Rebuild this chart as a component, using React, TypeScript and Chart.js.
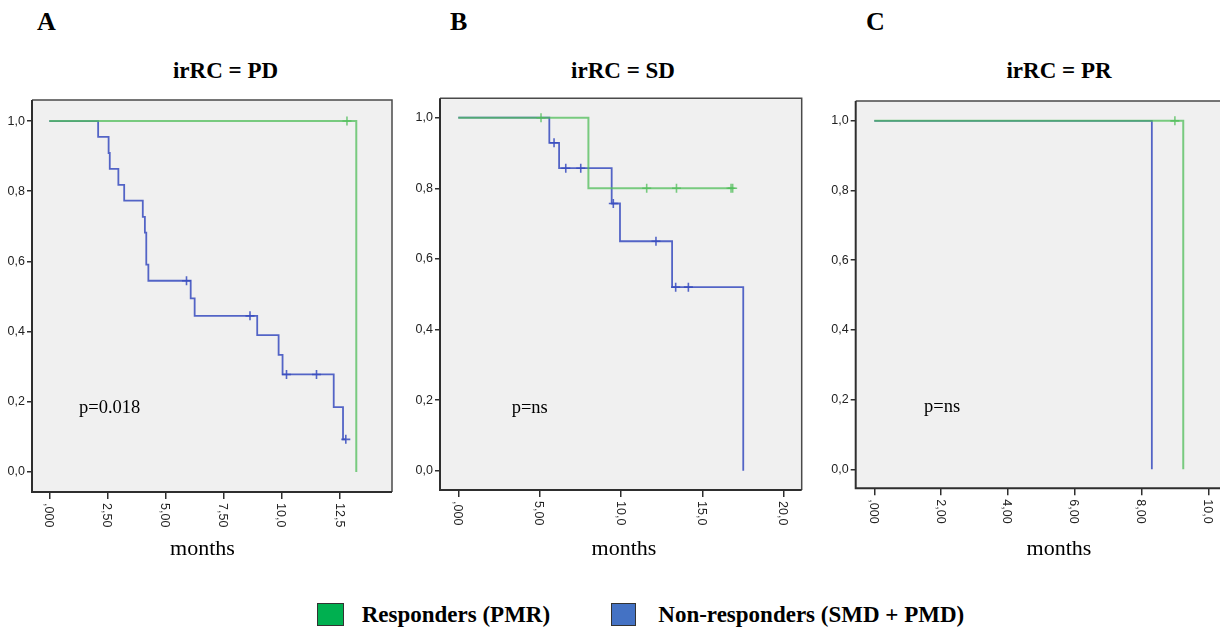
import React, { useEffect, useRef } from "react";
import { Chart, registerables } from "chart.js";
Chart.register(...registerables);

// ---------- shared tick labels ----------
const yTicks = [0, 0.2, 0.4, 0.6, 0.8, 1.0];
const yTickLabels = ["0,0", "0,2", "0,4", "0,6", "0,8", "1,0"];

// ---------- Panel A : irRC = PD ----------
const aXTicks = [0, 2.5, 5, 7.5, 10, 12.5];
const aXTickLabels = [",000", "2,50", "5,00", "7,50", "10,0", "12,5"];
const aRespTime = [0, 13.2];
const aRespSurv = [1, 0];
const aRespCensTime = [12.8];
const aRespCensSurv = [1];
const aNonTime = [0, 2.1, 2.55, 2.6, 2.97, 3.22, 4.02, 4.11, 4.17, 4.26, 6.08, 6.25, 8.94, 9.86, 10.03, 12.23, 12.63, 12.75];
const aNonSurv = [1, 0.955, 0.909, 0.864, 0.818, 0.773, 0.727, 0.682, 0.591, 0.545, 0.495, 0.445, 0.39, 0.334, 0.278, 0.185, 0.093, 0.093];
const aNonCensTime = [5.9, 8.63, 10.2, 11.49, 12.75];
const aNonCensSurv = [0.545, 0.445, 0.278, 0.278, 0.093];

// ---------- Panel B : irRC = SD ----------
const bXTicks = [0, 5, 10, 15, 20];
const bXTickLabels = [",000", "5,00", "10,0", "15,0", "20,0"];
const bRespTime = [0, 7.99, 16.9];
const bRespSurv = [1, 0.8, 0.8];
const bRespCensTime = [5.08, 11.57, 13.4, 16.75, 16.85];
const bRespCensSurv = [1, 0.8, 0.8, 0.8, 0.8];
const bNonTime = [0, 5.59, 6.19, 9.42, 9.93, 13.13, 17.5];
const bNonSurv = [1, 0.929, 0.857, 0.757, 0.65, 0.52, 0];
const bNonCensTime = [5.88, 6.6, 7.52, 9.52, 12.14, 13.35, 14.13];
const bNonCensSurv = [0.929, 0.857, 0.857, 0.757, 0.65, 0.52, 0.52];

// ---------- Panel C : irRC = PR ----------
const cXTicks = [0, 2, 4, 6, 8, 10];
const cXTickLabels = [",000", "2,00", "4,00", "6,00", "8,00", "10,0"];
const cRespTime = [0, 9.25];
const cRespSurv = [1, 0];
const cRespCensTime = [9.0];
const cRespCensSurv = [1];
const cNonTime = [0, 8.31];
const cNonSurv = [1, 0];
const cNonCensTime: number[] = [];
const cNonCensSurv: number[] = [];

const GREEN = "rgba(80,190,90,0.75)";
const BLUE = "rgba(55,75,190,0.85)";

type PanelDef = {
  left: number; top: number; w: number; h: number;
  yW: number; xH: number; padTop: number; padRight: number;
  xMin: number; xMax: number; yMin: number; yMax: number;
  xTicks: number[]; xLabels: string[];
  rT: number[]; rS: number[]; rcT: number[]; rcS: number[];
  nT: number[]; nS: number[]; ncT: number[]; ncS: number[];
};

const panels: PanelDef[] = [
  {
    left: 0, top: 90, w: 400, h: 450, yW: 32, xH: 48, padTop: 10, padRight: 8,
    xMin: -0.744, xMax: 14.736, yMin: -0.057, yMax: 1.06,
    xTicks: aXTicks, xLabels: aXTickLabels,
    rT: aRespTime, rS: aRespSurv, rcT: aRespCensTime, rcS: aRespCensSurv,
    nT: aNonTime, nS: aNonSurv, ncT: aNonCensTime, ncS: aNonCensSurv,
  },
  {
    left: 400, top: 88, w: 410, h: 452, yW: 40, xH: 50, padTop: 10.3, padRight: 8.3,
    xMin: -1.124, xMax: 21.09, yMin: -0.0547, yMax: 1.055,
    xTicks: bXTicks, xLabels: bXTickLabels,
    rT: bRespTime, rS: bRespSurv, rcT: bRespCensTime, rcS: bRespCensSurv,
    nT: bNonTime, nS: bNonSurv, ncT: bNonCensTime, ncS: bNonCensSurv,
  },
  {
    left: 812, top: 90, w: 428, h: 450, yW: 43.7, xH: 51.7, padTop: 11, padRight: 10,
    xMin: -0.557, xMax: 10.65, yMin: -0.0546, yMax: 1.057,
    xTicks: cXTicks, xLabels: cXTickLabels,
    rT: cRespTime, rS: cRespSurv, rcT: cRespCensTime, rcS: cRespCensSurv,
    nT: cNonTime, nS: cNonSurv, ncT: cNonCensTime, ncS: cNonCensSurv,
  },
];

const pts = (t: number[], s: number[]) => t.map((x, i) => ({ x, y: s[i] }));

const tickFont = '"Liberation Sans Narrow", "Liberation Sans", Arial, sans-serif';

function makeFramePlugin(xTicks: number[], xLabels: string[]) {
  return {
    id: "frameAndLabels",
    beforeDraw(chart: any) {
      const { ctx, chartArea } = chart;
      const { left, top, right, bottom } = chartArea;
      ctx.save();
      ctx.fillStyle = "#f0f0f0";
      ctx.fillRect(left, top, right - left, bottom - top);
      ctx.restore();
    },
    afterDraw(chart: any) {
      const { ctx, chartArea } = chart;
      const { left, top, right, bottom } = chartArea;
      ctx.save();
      ctx.strokeStyle = "#4a4a4a";
      ctx.lineWidth = 1.5;
      ctx.beginPath();
      ctx.moveTo(left, top);
      ctx.lineTo(right, top);
      ctx.lineTo(right, bottom);
      ctx.stroke();
      ctx.strokeStyle = "#2e2e2e";
      ctx.lineWidth = 2;
      ctx.beginPath();
      ctx.moveTo(left, top);
      ctx.lineTo(left, bottom);
      ctx.lineTo(right, bottom);
      ctx.stroke();
      const xs = chart.scales.x;
      ctx.fillStyle = "#222";
      ctx.font = `12.5px ${tickFont}`;
      ctx.textAlign = "left";
      ctx.textBaseline = "middle";
      xTicks.forEach((v, i) => {
        const px = xs.getPixelForValue(v);
        ctx.save();
        ctx.translate(px - 1, bottom + 11);
        ctx.rotate(Math.PI / 2);
        ctx.fillText(xLabels[i], 0, 0);
        ctx.restore();
      });
      ctx.restore();
    },
  };
}

function Panel({ p }: { p: PanelDef }) {
  const ref = useRef<HTMLCanvasElement | null>(null);
  useEffect(() => {
    if (!ref.current) return;
    const gridOpts = {
      display: true,
      drawOnChartArea: false,
      drawTicks: true,
      color: "#2e2e2e",
      lineWidth: 1.5,
    };
    const chart = new Chart(ref.current, {
      type: "line",
      data: {
        datasets: [
          {
            data: pts(p.rcT, p.rcS),
            showLine: false,
            pointStyle: "cross",
            pointRadius: 4.5,
            pointBorderWidth: 1.6,
            pointBorderColor: GREEN,
            pointBackgroundColor: GREEN,
          },
          {
            data: pts(p.rT, p.rS),
            stepped: "before",
            borderColor: GREEN,
            borderWidth: 2,
            pointRadius: 0,
            fill: false,
          },
          {
            data: pts(p.ncT, p.ncS),
            showLine: false,
            pointStyle: "cross",
            pointRadius: 4.5,
            pointBorderWidth: 1.6,
            pointBorderColor: BLUE,
            pointBackgroundColor: BLUE,
          },
          {
            data: pts(p.nT, p.nS),
            stepped: "before",
            borderColor: BLUE,
            borderWidth: 1.8,
            pointRadius: 0,
            fill: false,
          },
        ],
      } as any,
      options: {
        animation: false,
        responsive: false,
        maintainAspectRatio: false,
        devicePixelRatio: 1,
        layout: { padding: { top: p.padTop, right: p.padRight, left: 0, bottom: 0 } },
        plugins: { legend: { display: false }, tooltip: { enabled: false } },
        scales: {
          x: {
            type: "linear",
            min: p.xMin,
            max: p.xMax,
            afterFit: (s: any) => { s.height = p.xH; },
            afterBuildTicks: (s: any) => { s.ticks = p.xTicks.map((v) => ({ value: v })); },
            ticks: { display: false },
            grid: { ...gridOpts, tickLength: 7 },
            border: { display: false },
          },
          y: {
            type: "linear",
            min: p.yMin,
            max: p.yMax,
            afterFit: (s: any) => { s.width = p.yW; },
            afterBuildTicks: (s: any) => { s.ticks = yTicks.map((v) => ({ value: v })); },
            ticks: {
              callback: (_v: any, i: number) => yTickLabels[i],
              color: "#222",
              padding: 2,
              font: { size: 12.5, family: tickFont },
            },
            grid: { ...gridOpts, tickLength: 5 },
            border: { display: false },
          },
        },
      } as any,
      plugins: [makeFramePlugin(p.xTicks, p.xLabels)],
    });
    return () => chart.destroy();
  }, [p]);
  return (
    <canvas
      ref={ref}
      width={p.w}
      height={p.h}
      style={{ position: "absolute", left: p.left, top: p.top, width: p.w, height: p.h }}
    />
  );
}

const serif = '"Liberation Serif", "Times New Roman", serif';

function Txt({ x, baseline, size, bold, children, center }: any) {
  const top = baseline - 0.8375 * size;
  const style: React.CSSProperties = {
    position: "absolute",
    top,
    fontSize: size,
    lineHeight: `${size}px`,
    fontWeight: bold ? "bold" : "normal",
    fontFamily: serif,
    color: "#000",
    whiteSpace: "nowrap",
  };
  if (center) {
    style.left = x - 150;
    style.width = 300;
    style.textAlign = "center";
  } else {
    style.left = x;
  }
  return <div style={style}>{children}</div>;
}

export default function App() {
  return (
    <div
      style={{
        position: "absolute",
        left: 0,
        top: 0,
        width: 1220,
        height: 629,
        overflow: "hidden",
        background: "#fff",
      }}
    >
      {panels.map((p, i) => (
        <Panel key={i} p={p} />
      ))}
      <Txt x={37} baseline={31} size={26} bold>A</Txt>
      <Txt x={450} baseline={31} size={26} bold>B</Txt>
      <Txt x={866} baseline={31} size={26} bold>C</Txt>
      <Txt x={225.5} baseline={78} size={23} bold center>irRC = PD</Txt>
      <Txt x={623} baseline={78} size={23} bold center>irRC = SD</Txt>
      <Txt x={1059} baseline={78} size={23} bold center>irRC = PR</Txt>
      <Txt x={79} baseline={413} size={18.5}>p=0.018</Txt>
      <Txt x={511.7} baseline={413} size={18.5}>p=ns</Txt>
      <Txt x={924} baseline={412} size={18.5}>p=ns</Txt>
      <Txt x={202.5} baseline={555} size={22} center>months</Txt>
      <Txt x={624} baseline={555} size={22} center>months</Txt>
      <Txt x={1059} baseline={555} size={22} center>months</Txt>
      <div style={{ position: "absolute", left: 317, top: 603, width: 25, height: 21, background: "#00b050", border: "1px solid #333" }} />
      <Txt x={361.7} baseline={622.7} size={23} bold>Responders (PMR)</Txt>
      <div style={{ position: "absolute", left: 611, top: 603, width: 23, height: 21, background: "#4472c4", border: "1px solid #333" }} />
      <Txt x={658.3} baseline={622.7} size={23} bold>Non-responders (SMD + PMD)</Txt>
    </div>
  );
}
